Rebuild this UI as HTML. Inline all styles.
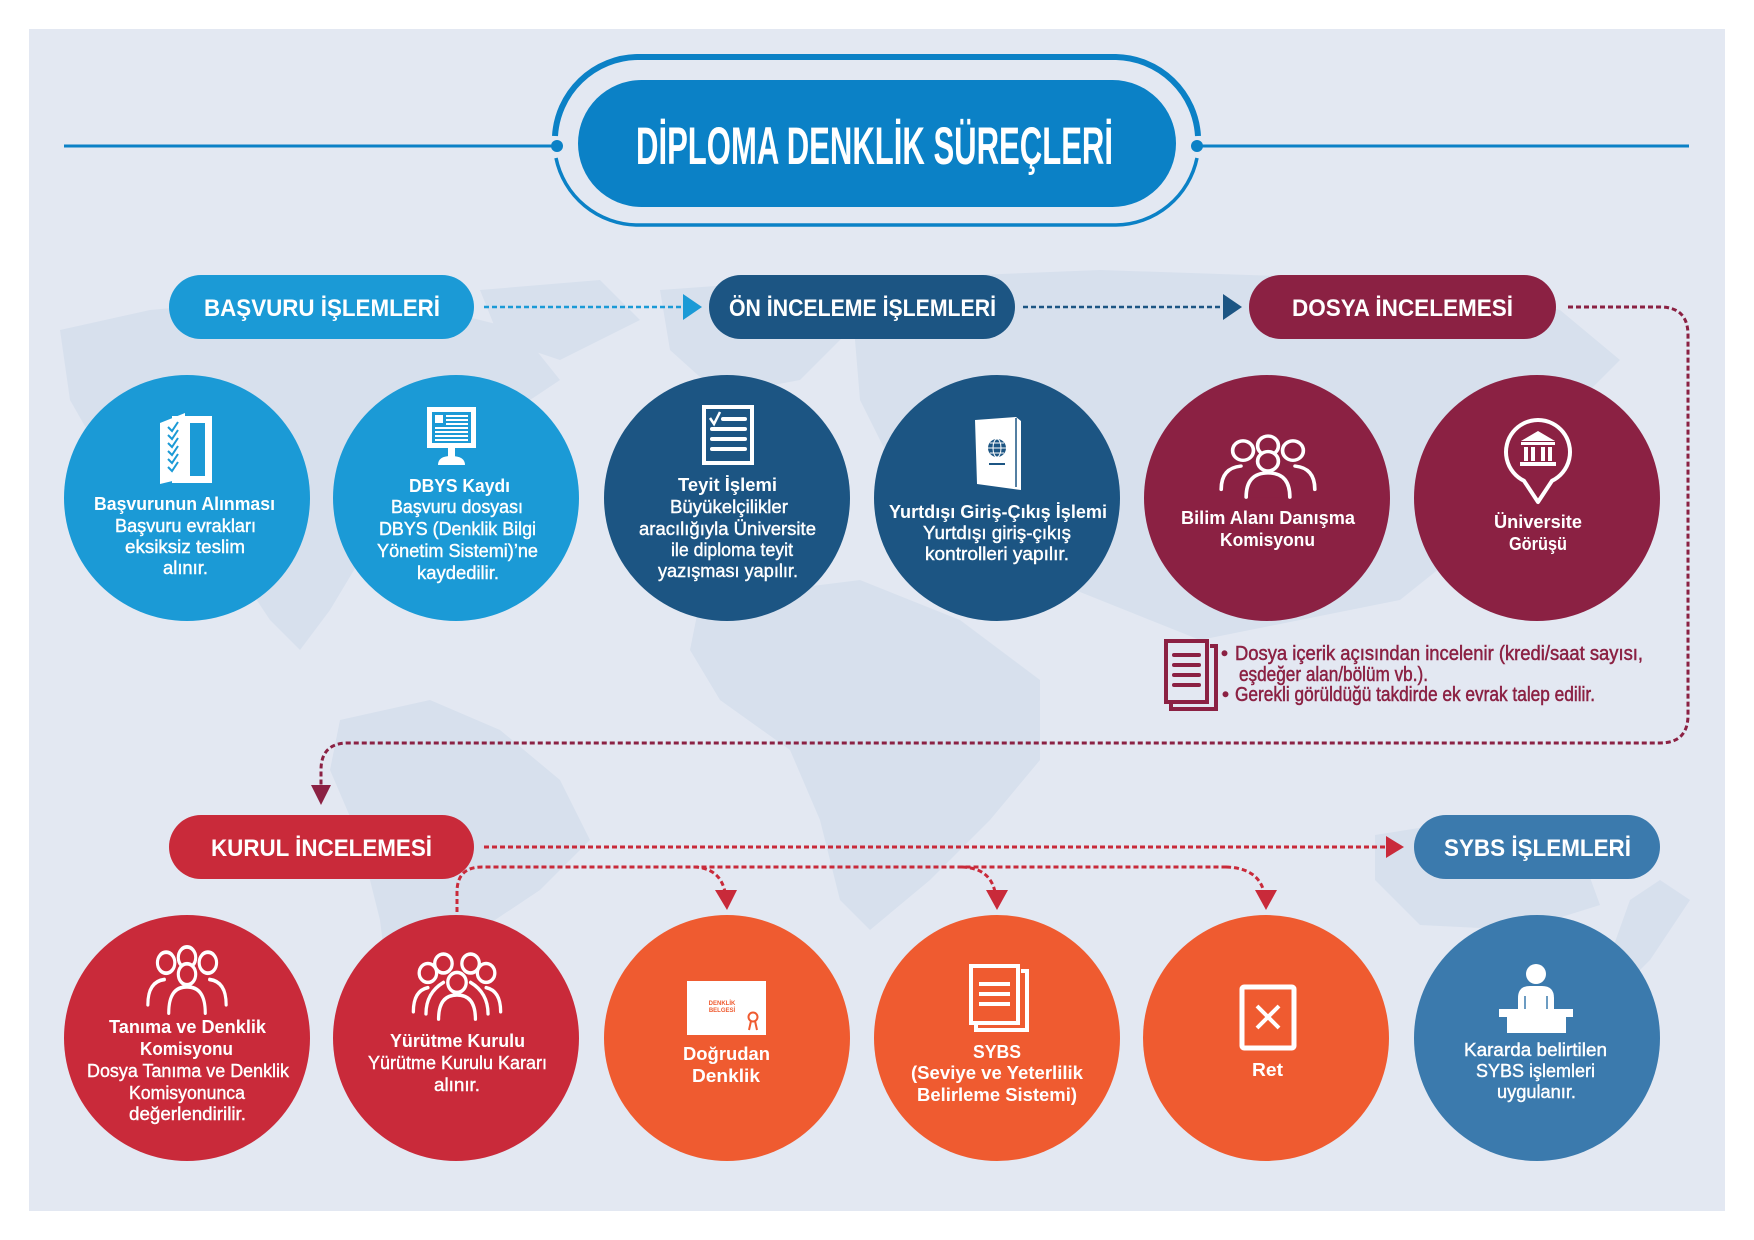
<!DOCTYPE html>
<html><head><meta charset="utf-8"><style>
html,body{margin:0;padding:0;background:#fff;}
svg{display:block;}
text{font-family:"Liberation Sans",Arial,sans-serif;}
</style></head><body>
<svg width="1754" height="1240" viewBox="0 0 1754 1240" xmlns="http://www.w3.org/2000/svg">
<rect x="0" y="0" width="1754" height="1240" fill="#ffffff"/>
<rect x="29" y="29" width="1696" height="1182" fill="#e3e8f2"/>

<!-- faint world map -->
<g fill="#d7e0ed">
<polygon points="60,330 150,310 260,300 400,300 520,330 560,380 500,420 450,470 400,520 360,560 330,610 300,650 270,620 230,560 170,520 110,470 70,400"/>
<polygon points="480,290 600,280 640,320 560,360 500,340"/>
<polygon points="340,720 430,700 500,730 560,780 590,840 540,890 480,930 440,990 410,1030 390,1000 380,920 360,840 330,770"/>
<polygon points="660,290 800,280 850,330 800,380 720,395 670,350"/>
<polygon points="700,600 860,580 960,620 1040,680 1040,760 990,820 930,880 870,930 840,900 820,820 790,750 720,700 690,650"/>
<polygon points="850,280 1100,270 1400,280 1560,310 1620,360 1560,420 1500,470 1450,560 1400,600 1300,620 1200,640 1100,600 1000,560 900,480 860,400"/>
<polygon points="1375,835 1500,815 1580,850 1600,905 1520,930 1420,925 1375,880"/>
<polygon points="1630,900 1660,880 1690,900 1650,960 1620,990 1605,970"/>
</g>

<!-- title -->
<line x1="64" y1="146" x2="552" y2="146" stroke="#0b81c6" stroke-width="3"/>
<line x1="1202" y1="146" x2="1689" y2="146" stroke="#0b81c6" stroke-width="3"/>
<path d="M 555 136 A 84 84 0 0 1 637 57 H 1116 A 84 84 0 0 1 1198 136" fill="none" stroke="#0b81c6" stroke-width="6"/>
<path d="M 556 158 A 84 84 0 0 0 637 225 H 1116 A 84 84 0 0 0 1197 158" fill="none" stroke="#0b81c6" stroke-width="3.5"/>
<circle cx="557" cy="146" r="6" fill="#0b81c6"/>
<circle cx="1197" cy="146" r="6" fill="#0b81c6"/>
<rect x="578" y="80" width="598" height="127" rx="63.5" fill="#0b81c6"/>
<text x="874.5" y="164" font-size="53" font-weight="bold" fill="#fff" text-anchor="middle" textLength="477" lengthAdjust="spacingAndGlyphs">DİPLOMA DENKLİK SÜREÇLERİ</text>

<!-- header pills row 1 -->
<rect x="169" y="275" width="305" height="64" rx="32" fill="#1b9ad6"/>
<text x="322" y="316" font-size="24" font-weight="bold" fill="#fff" text-anchor="middle" textLength="236" lengthAdjust="spacingAndGlyphs">BAŞVURU İŞLEMLERİ</text>
<rect x="709" y="275" width="306" height="64" rx="32" fill="#1c5583"/>
<text x="862.5" y="316" font-size="24" font-weight="bold" fill="#fff" text-anchor="middle" textLength="267" lengthAdjust="spacingAndGlyphs">ÖN İNCELEME İŞLEMLERİ</text>
<rect x="1249" y="275" width="307" height="64" rx="32" fill="#8b2143"/>
<text x="1402.5" y="316" font-size="24" font-weight="bold" fill="#fff" text-anchor="middle" textLength="221" lengthAdjust="spacingAndGlyphs">DOSYA İNCELEMESİ</text>

<!-- row1 arrows -->
<line x1="484" y1="307" x2="684" y2="307" stroke="#1b9ad6" stroke-width="2.5" stroke-dasharray="5 3"/>
<polygon points="683,294 702,307 683,320" fill="#1b9ad6"/>
<line x1="1023" y1="307" x2="1224" y2="307" stroke="#1c5583" stroke-width="2.5" stroke-dasharray="5 3"/>
<polygon points="1223,294 1242,307 1223,320" fill="#1c5583"/>
<path d="M 1568 307 H 1660 Q 1688 307 1688 335 V 715 Q 1688 743 1660 743 H 348 Q 321 743 321 770 V 787" fill="none" stroke="#8b2143" stroke-width="3" stroke-dasharray="5 3"/>
<polygon points="311,785 331,785 321,805" fill="#8b2143"/>

<!-- row1 circles -->
<circle cx="187" cy="498" r="123" fill="#1b9ad6"/>
<circle cx="456" cy="498" r="123" fill="#1b9ad6"/>
<circle cx="727" cy="498" r="123" fill="#1c5583"/>
<circle cx="997" cy="498" r="123" fill="#1c5583"/>
<circle cx="1267" cy="498" r="123" fill="#8b2143"/>
<circle cx="1537" cy="498" r="123" fill="#8b2143"/>

<!-- icon 1: folder with checks -->
<rect x="172" y="416" width="40" height="67" fill="#fff"/>
<rect x="190" y="423" width="15" height="53" fill="#1b9ad6"/>
<polygon points="160,423 185,413 185,478 160,484" fill="#fff"/>
<g stroke="#1b9ad6" stroke-width="2" fill="none">
<polyline points="168,427 172,431 178,422"/>
<polyline points="168,435 172,439 178,430"/>
<polyline points="168,443 172,447 178,438"/>
<polyline points="168,451 172,455 178,446"/>
<polyline points="168,459 172,463 178,454"/>
<polyline points="168,467 172,471 178,462"/>
</g>

<!-- icon 2: monitor -->
<rect x="427" y="407" width="49" height="41" fill="#fff"/>
<rect x="432" y="412" width="39" height="31" fill="#1b9ad6"/>
<rect x="435" y="415" width="8" height="8" fill="#fff"/>
<g stroke="#fff" stroke-width="2">
<line x1="446" y1="416" x2="468" y2="416"/>
<line x1="446" y1="420" x2="468" y2="420"/>
<line x1="446" y1="424" x2="468" y2="424"/>
<line x1="435" y1="428" x2="468" y2="428"/>
<line x1="435" y1="432" x2="468" y2="432"/>
<line x1="435" y1="436" x2="468" y2="436"/>
<line x1="435" y1="440" x2="468" y2="440"/>
</g>
<rect x="448" y="448" width="7" height="9" fill="#fff"/>
<path d="M 438 465 Q 438 456 451 456 Q 465 456 465 465 Z" fill="#fff"/>

<!-- icon 3: checklist -->
<rect x="704" y="407" width="48" height="56" fill="none" stroke="#fff" stroke-width="4"/>
<polyline points="710,418 714,424 720,412" fill="none" stroke="#fff" stroke-width="2.5"/>
<g stroke="#fff" stroke-width="4" stroke-linecap="round">
<line x1="723" y1="419" x2="745" y2="419"/>
<line x1="712" y1="429" x2="745" y2="429"/>
<line x1="712" y1="439" x2="745" y2="439"/>
<line x1="712" y1="449" x2="745" y2="449"/>
</g>

<!-- icon 4: passport -->
<path d="M 975 420 L 1016 417 L 1021 421 L 1021 490 L 977 484 Z" fill="#fff"/>
<line x1="1016" y1="418" x2="1016" y2="487" stroke="#1c5583" stroke-width="1.5"/>
<circle cx="997" cy="448" r="9" fill="#1c5583"/>
<g stroke="#fff" stroke-width="1" fill="none">
<ellipse cx="997" cy="448" rx="4" ry="9"/>
<line x1="988" y1="448" x2="1006" y2="448"/>
<line x1="990" y1="443" x2="1004" y2="443"/>
<line x1="990" y1="453" x2="1004" y2="453"/>
</g>
<rect x="989" y="463" width="16" height="2" fill="#1c5583"/>

<!-- icon 5: group (Bilim) -->
<g transform="translate(1268,437) scale(1.04,0.97)" fill="none" stroke="#fff" stroke-width="3.5" stroke-linecap="round">
<path d="M -45 54 Q -45 32 -26 30"/>
<path d="M 45 54 Q 45 32 26 30"/>
<circle cx="-24" cy="14" r="10"/>
<circle cx="24" cy="14" r="10"/>
<circle cx="0" cy="9" r="10" fill="#8b2143"/>
<path d="M -21 62 Q -21 37 0 37 Q 21 37 21 62" fill="#8b2143"/>
<circle cx="0" cy="25" r="10" fill="#8b2143"/>
</g>

<!-- icon 6: pin with building -->
<path d="M 1524 480.8 A 32 32 0 1 1 1552 480.8 L 1538 502 Z" fill="none" stroke="#fff" stroke-width="4" stroke-linejoin="round"/>
<polygon points="1521,441 1538,431 1555,441" fill="#fff"/>
<rect x="1521" y="442" width="34" height="3" fill="#fff"/>
<rect x="1524" y="447" width="4" height="14" fill="#fff"/>
<rect x="1531" y="447" width="4" height="14" fill="#fff"/>
<rect x="1541" y="447" width="4" height="14" fill="#fff"/>
<rect x="1548" y="447" width="4" height="14" fill="#fff"/>
<rect x="1520" y="462" width="36" height="4" fill="#fff"/>

<!-- row1 texts -->
<g fill="#fff" font-size="18" text-anchor="middle">
<text x="184.5" y="510" font-weight="bold" textLength="181" lengthAdjust="spacingAndGlyphs">Başvurunun Alınması</text>
<text x="185.5" y="532" stroke="#fff" stroke-width="0.4" textLength="141" lengthAdjust="spacingAndGlyphs">Başvuru evrakları</text>
<text x="185" y="553" stroke="#fff" stroke-width="0.4" textLength="120" lengthAdjust="spacingAndGlyphs">eksiksiz teslim</text>
<text x="185.5" y="574" stroke="#fff" stroke-width="0.4" textLength="45" lengthAdjust="spacingAndGlyphs">alınır.</text>

<text x="459.5" y="492" font-weight="bold" textLength="101" lengthAdjust="spacingAndGlyphs">DBYS Kaydı</text>
<text x="457" y="513" stroke="#fff" stroke-width="0.4" textLength="132" lengthAdjust="spacingAndGlyphs">Başvuru dosyası</text>
<text x="457.5" y="535" stroke="#fff" stroke-width="0.4" textLength="157" lengthAdjust="spacingAndGlyphs">DBYS (Denklik Bilgi</text>
<text x="457.5" y="557" stroke="#fff" stroke-width="0.4" textLength="161" lengthAdjust="spacingAndGlyphs">Yönetim Sistemi)’ne</text>
<text x="458" y="579" stroke="#fff" stroke-width="0.4" textLength="82" lengthAdjust="spacingAndGlyphs">kaydedilir.</text>

<text x="727.5" y="491" font-weight="bold" textLength="99" lengthAdjust="spacingAndGlyphs">Teyit İşlemi</text>
<text x="729" y="513" stroke="#fff" stroke-width="0.4" textLength="118" lengthAdjust="spacingAndGlyphs">Büyükelçilikler</text>
<text x="727.5" y="535" stroke="#fff" stroke-width="0.4" textLength="177" lengthAdjust="spacingAndGlyphs">aracılığıyla Üniversite</text>
<text x="732" y="556" stroke="#fff" stroke-width="0.4" textLength="122" lengthAdjust="spacingAndGlyphs">ile diploma teyit</text>
<text x="728" y="577" stroke="#fff" stroke-width="0.4" textLength="140" lengthAdjust="spacingAndGlyphs">yazışması yapılır.</text>

<text x="998" y="518" font-weight="bold" textLength="218" lengthAdjust="spacingAndGlyphs">Yurtdışı Giriş-Çıkış İşlemi</text>
<text x="997" y="539" stroke="#fff" stroke-width="0.4" textLength="148" lengthAdjust="spacingAndGlyphs">Yurtdışı giriş-çıkış</text>
<text x="997" y="560" stroke="#fff" stroke-width="0.4" textLength="144" lengthAdjust="spacingAndGlyphs">kontrolleri yapılır.</text>

<text x="1268" y="524" font-weight="bold" textLength="174" lengthAdjust="spacingAndGlyphs">Bilim Alanı Danışma</text>
<text x="1267.5" y="546" font-weight="bold" textLength="95" lengthAdjust="spacingAndGlyphs">Komisyonu</text>

<text x="1538" y="528" font-weight="bold" textLength="88" lengthAdjust="spacingAndGlyphs">Üniversite</text>
<text x="1538" y="550" font-weight="bold" textLength="58" lengthAdjust="spacingAndGlyphs">Görüşü</text>
</g>

<!-- notes -->
<path d="M 1210 646 H 1216 V 709 H 1171 V 703" fill="none" stroke="#8b2143" stroke-width="4"/>
<rect x="1166" y="641" width="41" height="61" fill="#e3e8f2" stroke="#8b2143" stroke-width="4"/>
<g stroke="#8b2143" stroke-width="4" stroke-linecap="round">
<line x1="1174" y1="655" x2="1199" y2="655"/>
<line x1="1174" y1="665" x2="1199" y2="665"/>
<line x1="1174" y1="675" x2="1199" y2="675"/>
<line x1="1174" y1="685" x2="1199" y2="685"/>
</g>
<g fill="#8b2143" font-size="20" stroke="#8b2143" stroke-width="0.5">
<text x="1221" y="660">•</text>
<text x="1235" y="660" textLength="408" lengthAdjust="spacingAndGlyphs">Dosya içerik açısından incelenir (kredi/saat sayısı,</text>
<text x="1239" y="681" textLength="189" lengthAdjust="spacingAndGlyphs">eşdeğer alan/bölüm vb.).</text>
<text x="1222" y="701">•</text>
<text x="1235" y="701" textLength="360" lengthAdjust="spacingAndGlyphs">Gerekli görüldüğü takdirde ek evrak talep edilir.</text>
</g>

<!-- header pills row 2 -->
<rect x="169" y="815" width="305" height="64" rx="32" fill="#c92a3a"/>
<text x="321.5" y="856" font-size="24" font-weight="bold" fill="#fff" text-anchor="middle" textLength="221" lengthAdjust="spacingAndGlyphs">KURUL İNCELEMESİ</text>
<rect x="1414" y="815" width="246" height="64" rx="32" fill="#3b7aad"/>
<text x="1537.5" y="856" font-size="24" font-weight="bold" fill="#fff" text-anchor="middle" textLength="187" lengthAdjust="spacingAndGlyphs">SYBS İŞLEMLERİ</text>

<!-- row2 arrows -->
<line x1="484" y1="847" x2="1388" y2="847" stroke="#c92a3a" stroke-width="3" stroke-dasharray="5 3"/>
<polygon points="1386,836 1404,847 1386,858" fill="#c92a3a"/>
<path d="M 457 912 V 892 Q 457 867 482 867 H 1228" fill="none" stroke="#c92a3a" stroke-width="3" stroke-dasharray="5 3"/>
<path d="M 694 867 Q 720 868 725 892" fill="none" stroke="#c92a3a" stroke-width="3" stroke-dasharray="5 3"/>
<polygon points="715,890 737,890 727,910" fill="#c92a3a"/>
<path d="M 962 867 Q 990 868 995 892" fill="none" stroke="#c92a3a" stroke-width="3" stroke-dasharray="5 3"/>
<polygon points="986,890 1008,890 997,910" fill="#c92a3a"/>
<path d="M 1226 867 Q 1258 868 1264 892" fill="none" stroke="#c92a3a" stroke-width="3" stroke-dasharray="5 3"/>
<polygon points="1255,890 1277,890 1266,910" fill="#c92a3a"/>

<!-- row2 circles -->
<circle cx="187" cy="1038" r="123" fill="#c92a3a"/>
<circle cx="456" cy="1038" r="123" fill="#c92a3a"/>
<circle cx="727" cy="1038" r="123" fill="#ef5b30"/>
<circle cx="997" cy="1038" r="123" fill="#ef5b30"/>
<circle cx="1266" cy="1038" r="123" fill="#ef5b30"/>
<circle cx="1537" cy="1038" r="123" fill="#3b7aad"/>

<!-- group icon Tanıma -->
<g transform="translate(187,948) scale(0.87,1.05)" fill="none" stroke="#fff" stroke-width="3.6" stroke-linecap="round">
<path d="M -45 54 Q -45 32 -26 30"/>
<path d="M 45 54 Q 45 32 26 30"/>
<circle cx="-24" cy="14" r="10"/>
<circle cx="24" cy="14" r="10"/>
<circle cx="0" cy="9" r="10" fill="#c92a3a"/>
<path d="M -21 62 Q -21 37 0 37 Q 21 37 21 62" fill="#c92a3a"/>
<circle cx="0" cy="25" r="10" fill="#c92a3a"/>
</g>
<!-- group icon Yürütme -->
<g transform="translate(457,953) scale(0.97,1.05)" fill="none" stroke="#fff" stroke-width="3.4" stroke-linecap="round">
<path d="M -45 56 Q -45 36 -30 33"/>
<path d="M 45 56 Q 45 36 30 33"/>
<circle cx="-30" cy="19" r="9"/>
<circle cx="30" cy="19" r="9"/>
<circle cx="-14" cy="10" r="9" fill="#c92a3a"/>
<circle cx="14" cy="10" r="9" fill="#c92a3a"/>
<path d="M -32 58 Q -32 38 -14 28" />
<path d="M 32 58 Q 32 38 14 28" />
<path d="M -19 63 Q -19 40 0 40 Q 19 40 19 63" fill="#c92a3a"/>
<circle cx="0" cy="28" r="9.5" fill="#c92a3a"/>
</g>

<!-- certificate -->
<rect x="687" y="981" width="79" height="54" fill="#fff"/>
<text x="722" y="1005" font-size="6" font-weight="bold" fill="#ef5b30" text-anchor="middle">DENKLİK</text>
<text x="722" y="1012" font-size="6" font-weight="bold" fill="#ef5b30" text-anchor="middle">BELGESİ</text>
<circle cx="753" cy="1017" r="4.5" fill="none" stroke="#ef5b30" stroke-width="2"/>
<polyline points="749,1030 751,1021" stroke="#ef5b30" stroke-width="2"/>
<polyline points="757,1030 755,1021" stroke="#ef5b30" stroke-width="2"/>

<!-- SYBS docs -->
<path d="M 1021 971 H 1027 V 1030 H 976 V 1024" fill="none" stroke="#fff" stroke-width="4"/>
<rect x="971" y="966" width="47" height="57" fill="#ef5b30" stroke="#fff" stroke-width="4"/>
<g stroke="#fff" stroke-width="4">
<line x1="979" y1="984" x2="1010" y2="984"/>
<line x1="979" y1="994" x2="1010" y2="994"/>
<line x1="979" y1="1004" x2="1010" y2="1004"/>
</g>

<!-- Ret -->
<rect x="1242" y="987" width="52" height="61" rx="2" fill="none" stroke="#fff" stroke-width="5"/>
<g stroke="#fff" stroke-width="4">
<line x1="1257" y1="1006" x2="1279" y2="1028"/>
<line x1="1279" y1="1006" x2="1257" y2="1028"/>
</g>

<!-- person at desk -->
<circle cx="1536" cy="974" r="10" fill="#fff"/>
<path d="M 1518 1012 V 998 Q 1518 986 1530 986 H 1542 Q 1554 986 1554 998 V 1012 Z" fill="#fff"/>
<line x1="1525" y1="996" x2="1525" y2="1010" stroke="#3b7aad" stroke-width="1.5"/>
<line x1="1547" y1="996" x2="1547" y2="1010" stroke="#3b7aad" stroke-width="1.5"/>
<rect x="1499" y="1009" width="74" height="8" fill="#fff"/>
<rect x="1507" y="1017" width="59" height="16" fill="#fff"/>

<!-- row2 texts -->
<g fill="#fff" font-size="18" text-anchor="middle">
<text x="187.5" y="1033" font-weight="bold" textLength="157" lengthAdjust="spacingAndGlyphs">Tanıma ve Denklik</text>
<text x="186.5" y="1055" font-weight="bold" textLength="93" lengthAdjust="spacingAndGlyphs">Komisyonu</text>
<text x="188" y="1077" stroke="#fff" stroke-width="0.4" textLength="202" lengthAdjust="spacingAndGlyphs">Dosya Tanıma ve Denklik</text>
<text x="187" y="1099" stroke="#fff" stroke-width="0.4" textLength="116" lengthAdjust="spacingAndGlyphs">Komisyonunca</text>
<text x="187.5" y="1120" stroke="#fff" stroke-width="0.4" textLength="117" lengthAdjust="spacingAndGlyphs">değerlendirilir.</text>

<text x="457.5" y="1047" font-weight="bold" textLength="135" lengthAdjust="spacingAndGlyphs">Yürütme Kurulu</text>
<text x="457.5" y="1069" stroke="#fff" stroke-width="0.4" textLength="179" lengthAdjust="spacingAndGlyphs">Yürütme Kurulu Kararı</text>
<text x="457" y="1091" stroke="#fff" stroke-width="0.4" textLength="46" lengthAdjust="spacingAndGlyphs">alınır.</text>

<text x="726.5" y="1060" font-weight="bold" textLength="87" lengthAdjust="spacingAndGlyphs">Doğrudan</text>
<text x="726" y="1082" font-weight="bold" textLength="68" lengthAdjust="spacingAndGlyphs">Denklik</text>

<text x="997" y="1058" font-weight="bold" textLength="48" lengthAdjust="spacingAndGlyphs">SYBS</text>
<text x="997" y="1079" font-weight="bold" textLength="172" lengthAdjust="spacingAndGlyphs">(Seviye ve Yeterlilik</text>
<text x="997" y="1101" font-weight="bold" textLength="160" lengthAdjust="spacingAndGlyphs">Belirleme Sistemi)</text>

<text x="1267.5" y="1076" font-weight="bold" textLength="31" lengthAdjust="spacingAndGlyphs">Ret</text>

<text x="1535.5" y="1056" stroke="#fff" stroke-width="0.4" textLength="143" lengthAdjust="spacingAndGlyphs">Kararda belirtilen</text>
<text x="1535.5" y="1077" stroke="#fff" stroke-width="0.4" textLength="119" lengthAdjust="spacingAndGlyphs">SYBS işlemleri</text>
<text x="1536.5" y="1098" stroke="#fff" stroke-width="0.4" textLength="79" lengthAdjust="spacingAndGlyphs">uygulanır.</text>
</g>
</svg>
</body></html>
